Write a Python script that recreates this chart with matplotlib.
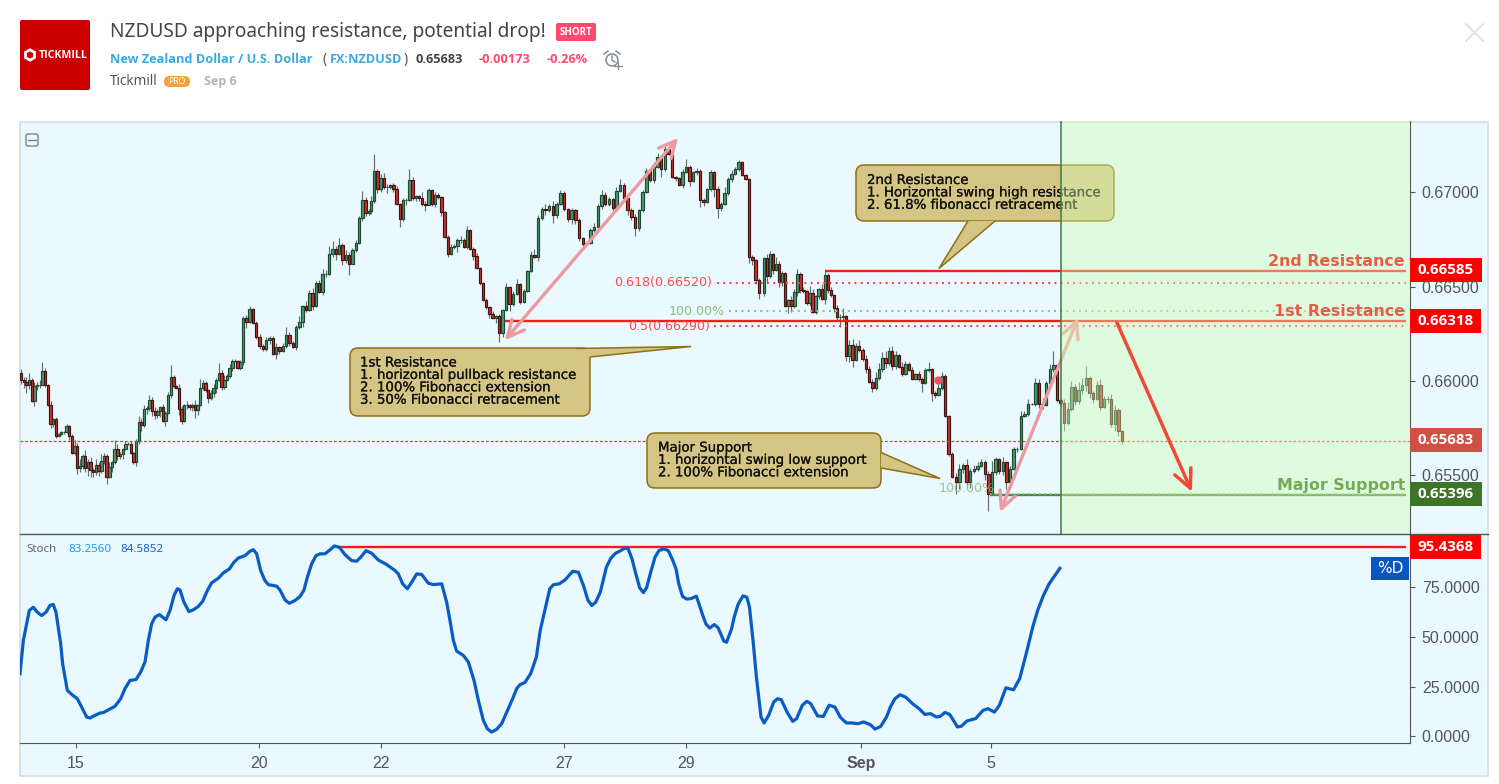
import numpy as np
import matplotlib
matplotlib.use("Agg")
import matplotlib.pyplot as plt
import matplotlib.patheffects as pe
from matplotlib.patches import FancyBboxPatch, Polygon, Rectangle, Circle, RegularPolygon
from matplotlib.transforms import Affine2D

W, H = 1499, 784

# ---- candle closes (price x 1e5), three chart stretches ----
close_a = [66007,65995,65976,66004,65893,65972,65977,65981,66051,65981,
65870,65770,65796,65708,65717,65729,65729,65761,65708,65620,
65655,65536,65550,65602,65536,65571,65528,65518,65555,65523,
65576,65602,65488,65541,65572,65641,65602,65611,65638,65664,
65668,65620,65572,65682,65784,65764,65849,65858,65898,65840,
65817,65840,65863,65787,65831,65923,66021,65972,65963,65852,
65787,65870,65873,65863,65873,65845,65870,65963,65990,65954,
65910,65937,65963,66007,66042,65968,66004,66025,66069,66104,
66104,66069,66099,66333,66312,66380,66306,66232,66187,66169,
66218,66227,66144,66180,66157,66187,66245,66201,66180,66285,
66312,66398,66377,66465,66398,66518,66474,66567,66567,66672,
66702,66676,66723,66641,66667,66623,66694,66732,66866,66961,
66892,66901]
close_b = [66952,67116,67019,67077,67028,67028,67042,67019,66940,66861,
66958,66958,67068,66972,66979,66972,66940,66936,67014,66940,
66989,66975,66896,66764,66676,66711,66715,66746,66750,66711,
66799,66702,66662,66600,66518,66430,66391,66356,66333,66342,
66254,66377,66496,66407,66460,66514,66421,66479,66584,66667,
66655,66866,66914,66905,66926,66882,66940,66998,66914,66861,
66905,66856,66760,66725,66732,66799,66817,66928,66989,66940,
66966,66919,67010,67042,66972,66905,66870,66813,66905,67002,
67112,67067,67134,67186,67125,67230,67204,67081,67077,67037,
67107,67134,67063,67107,67116,66958,66949,67019,67107,67019,
66919,66940,66996,67072,67098,67125,67160,67095,67072,66658,
66641,66535,66465]
close_c = [66650,66557,66671,66589,66620,66527,66571,66395,66427,66395,
66474,66566,66483,66479,66413,66469,66365,66448,66487,66434,
66562,66483,66457,66386,66337,66337,66346,66131,66193,66113,
66187,66166,66117,66064,65994,65964,66017,66061,66122,66096,
66157,66078,66140,66075,66039,66092,66057,66011,66039,66008,
65990,66057,66061,65937,65923,65964,66025,65814,65612,65489,
65462,65533,65554,65462,65524,65533,65550,65568,65506,65401,
65515,65585,65524,65568,65462,65533,65638,65638,65814,65823,
65876,65876,65987,65876,65870,65990,66064,66082,65899,65885,
65779,65853,65969,65893,65951,65978,66017,65934,65902,65981,
65862,65906,65906,65774,65846,65735,65683]
first_open = 66042
# wick lengths beyond the body (price x 1e5)
wick_up = [20,15,25,40,10,20,15,25,50,20, 5,25,10,15,5,5,5,10,5,10,
30,15,35,10,30,15,25,10,30,15, 35,15,10,30,5,45,25,10,5,20,
10,15,5,10,30,20,25,10,30,15, 20,10,5,15,10,20,65,10,5,20,
15,10,20,5,10,25,10,45,15,10, 5,15,20,10,55,15,25,10,20,15,
10,5,10,10,15,20,5,10,15,10, 15,10,10,20,5,15,40,15,10,10,
30,5,25,15,30,10,15,25,20,45, 40,15,35,10,25,15,10,15,10,45, 15,10,
30,90,10,20,25,15,5,10,15,5, 15,10,55,15,10,5,30,15,10,5,
15,10,5,5,10,15,10,10,20,10, 25,5,10,15,5,5,10,5,15,10,
15,5,25,10,15,25,5,10,5,20, 35,15,10,25,15,30,10,15,10,5,
15,5,10,5,5,15,20,10,25,15, 10,5,20,30,10,5,10,15,5,10,
20,15,25,25,15,20,10,10,5,5, 15,45,10,5,15,10,10,5,10,5,
15,10,35,10,20,10,10,5,5,5, 10,5,10,
10,25,20,10,40,15,10,5,10,25, 15,30,10,15,5,35,20,10,5,25,
30,10,15,5,15,20,40,5,25,30, 15,30,10,20,15,15,30,35,30,35,
25,30,20,5,25,15,10,15,5,15, 15,10,40,5,10,50,20,10,5,10,
20,25,10,30,15,20,20,20,15,15, 60,10,5,30,5,15,10,10,25,15,
30,5,30,25,35,10,25,75,5,10, 20,35,30,15,45,40,60,10,15,20,
30,15,15,25,25,10,5]
wick_dn = [25,30,40,20,5,25,20,15,5,15, 5,20,15,10,5,5,10,5,20,10,
15,30,20,15,20,40,35,30,15,25, 10,15,35,5,25,10,20,15,25,5,
5,10,10,25,15,30,10,25,15,25, 20,15,30,5,25,5,15,10,5,35,
15,5,20,15,20,40,25,5,10,15, 25,10,20,25,5,15,10,5,10,15,
5,5,10,15,30,5,5,10,15,10, 10,20,5,25,15,5,10,15,5,15,
10,25,10,5,20,5,5,20,15,5, 15,35,10,25,15,60,5,10,5,15, 15,10,
15,10,20,15,10,30,10,15,5,45, 10,25,5,10,15,20,10,35,5,10,
15,10,20,5,20,10,10,30,15,5, 10,10,20,5,10,5,10,20,5,25,
45,20,5,35,10,5,15,10,5,5, 5,20,10,25,10,45,15,5,10,20,
30,25,15,30,5,5,10,5,15,10, 10,15,5,10,5,25,15,45,15,10,
5,10,15,5,45,10,5,5,15,5, 15,5,30,5,15,35,20,5,10,45,
55,15,5,10,15,5,10,10,5,30, 25,20,30,
15,35,10,20,5,30,25,5,35,30, 10,25,15,10,10,15,5,10,15,5,
25,15,10,20,15,50,20,25,30,40, 5,15,10,20,5,25,10,10,15,30,
10,20,15,5,15,10,5,5,5,10, 50,5,10,45,15,5,10,5,10,5,
60,35,20,15,30,10,10,5,30,90, 5,15,20,25,35,5,5,15,5,5,
10,5,10,20,20,5,5,15,10,25, 45,15,10,20,15,20,30,25,20,5,
15,5,25,20,40,25,15]
# time anchors: bar number -> trading days after 15 Aug
anchor_bar = [0, 83, 121, 122, 162, 173, 207, 231, 234, 235, 262, 292, 341]
anchor_day = [-0.90, 2.738, 4.803, 4.836, 6.934, 7.574, 9.656, 11.033, 11.197, 11.279, 12.623, 14.246, 17.148]

# ---- stochastic %D ----
stoch_t = [-0.918,-0.863,-0.798,-0.765,-0.699,-0.634,-0.563,-0.492,-0.426,-0.372,-0.328,-0.251,-0.219,-0.142,-0.071,
0.022,0.093,0.175,0.230,0.311,0.393,0.448,0.514,0.639,0.732,0.803,0.885,0.984,1.060,1.131,1.186,1.240,1.295,1.366,1.475,
1.541,1.607,1.661,1.705,1.770,1.852,1.923,2.005,2.077,2.153,2.224,2.333,2.415,2.514,2.590,2.661,2.770,2.852,2.907,2.962,
3.027,3.098,3.153,3.290,3.344,3.426,3.497,3.590,3.672,3.738,3.792,3.863,3.934,4.0,4.082,4.164,4.235,4.317,4.410,4.519,
4.601,4.667,4.754,4.847,4.956,5.093,5.230,5.284,5.355,5.432,5.503,5.585,5.667,5.776,5.858,5.995,6.077,6.131,6.186,6.240,
6.350,6.432,6.525,6.596,6.678,6.743,6.814,6.896,6.978,7.087,7.158,7.224,7.279,7.359,7.453,7.547,7.610,7.691,7.767,7.829,
7.923,8.018,8.143,8.237,8.319,8.394,8.457,8.519,8.595,8.695,8.770,8.846,8.927,9.009,9.053,9.115,9.178,9.241,9.303,9.354,
9.429,9.492,9.555,9.636,9.711,9.774,9.837,9.881,9.944,10.013,10.088,10.169,10.213,10.276,10.326,10.389,10.464,10.527,10.621,10.665,
10.747,10.790,10.853,10.935,10.997,11.041,11.104,11.154,11.230,11.280,11.355,11.437,11.499,11.562,11.656,11.750,11.813,11.907,11.982,12.045,
12.158,12.252,12.346,12.440,12.534,12.629,12.723,12.817,12.911,13.024,13.099,13.193,13.287,13.350,13.425,13.507,13.601,13.714,13.821,13.915,
14.009,14.103,14.165,14.247,14.322,14.385,14.448,14.511,14.605,14.749,14.868,14.950,15.056,15.138,15.244,15.370,15.470,15.577,15.684,15.765,
15.859,15.953,16.047,16.129]
stoch_v = [31.5,48.3,58.3,63.4,65.0,62.5,60.8,62.5,65.9,66.4,62.5,46.6,36.5,23.1,21.1,
18.9,14.7,9.7,9.2,10.5,11.7,11.9,13.0,15.1,18.9,24.0,28.1,28.6,32.3,37.4,48.3,56.6,60.0,61.3,58.7,
63.4,70.9,74.3,73.7,67.5,62.8,63.7,65.4,68.0,73.4,77.3,79.6,82.3,84.3,87.7,89.8,91.0,93.2,94.0,91.9,
83.5,78.4,76.4,75.6,73.7,68.7,67.0,68.4,70.4,73.7,80.1,86.8,91.0,91.9,91.9,93.9,95.9,95.2,91.5,88.5,
88.2,90.2,93.5,92.2,88.8,86.5,83.5,81.8,76.8,74.3,77.6,81.8,81.5,77.1,76.4,76.8,67.5,58.3,48.3,42.9,
40.7,37.4,28.1,18.1,8.0,3.8,2.1,3.5,6.3,13.9,18.9,24.0,26.0,27.1,31.5,39.9,53.3,64.2,74.3,76.4,
76.8,78.8,83.1,82.6,75.9,68.4,65.9,67.5,72.6,85.2,89.8,92.2,93.5,94.9,94.4,89.3,81.8,74.8,72.4,74.8,
83.5,90.2,93.5,94.4,93.5,89.3,84.3,76.8,70.4,69.1,69.4,70.6,66.7,60.8,56.6,54.5,56.3,54.6,47.9,47.4,
54.1,60.0,66.4,70.7,70.1,65.0,46.6,29.8,9.7,6.7,10.5,17.2,18.9,18.4,12.2,7.5,8.9,15.6,17.6,16.4,
10.2,10.0,15.6,14.7,9.4,6.7,6.7,6.3,7.2,5.8,3.6,5.0,9.7,14.7,18.9,20.9,19.7,16.4,13.9,11.0,
11.4,9.7,10.0,12.0,11.0,8.0,4.7,5.0,7.7,8.9,13.0,13.9,12.2,15.6,24.4,23.4,29.0,41.6,55.0,63.4,
70.9,76.8,81.0,84.6]

# ---- axes labels ----
price_ticks = [0.655, 0.66, 0.665, 0.67]
stoch_ticks = [0, 25, 50, 75]
date_ticks = [0, 3, 5, 8, 10, 12.87, 15]
date_labels = ["15", "20", "22", "27", "29", "Sep", "5"]

# ---- levels ----
res2, res1, sup, last_px, stoch_high = 0.66585, 0.66318, 0.65396, 0.65683, 95.4368
fib618, fib50, ext_top = 0.66520, 0.66290, 0.66371

BG = "#E9F9FF"
fig = plt.figure(figsize=(W/100, H/100), dpi=100, facecolor="white")
plt.rcParams["font.family"] = ["DejaVu Sans"]

def add_ax(x0, y0, x1, y1, **kw):
    return fig.add_axes([x0/W, 1-y1/H, (x1-x0)/W, (y1-y0)/H], **kw)

pxT = Affine2D().scale(1, -1).translate(0, H)

# chrome background
bg = add_ax(0, 0, W, H, zorder=0)
bg.set_xlim(0, W); bg.set_ylim(H, 0); bg.axis("off")
bg.add_patch(Rectangle((20.5, 121.5), 1468, 654, fc=BG, ec="#D6DDE3", lw=1.2))

xlim = ((20-76)/61, (1410-76)/61)
ylim = (0.65188, 0.67379)

# ---------- main pane ----------
ax = add_ax(20, 121, 1410, 534, zorder=2)
ax.set_facecolor("none")
ax.set_xlim(*xlim); ax.set_ylim(*ylim)
for s in ["top", "left", "bottom"]:
    ax.spines[s].set_visible(False)
ax.spines["right"].set_color("#555555")
ax.yaxis.tick_right()
ax.set_yticks(price_ticks)
ax.set_yticklabels([f"{v:.5f}" for v in price_ticks], fontfamily="Liberation Sans", fontsize=11.5, color="#555555")
ax.tick_params(axis="y", length=3.5, color="#555555", pad=5)
ax.set_xticks([])

closes = np.array(close_a + close_b + close_c, float)
opens = np.r_[first_open, closes[:-1]]
times = np.interp(np.arange(len(closes)), anchor_bar, anchor_day)
up = np.array(wick_up, float); dn = np.array(wick_dn, float)
highs = np.maximum(opens, closes) + up
lows = np.minimum(opens, closes) - dn
rising = closes >= opens
ax.vlines(times, lows/1e5, highs/1e5, color="#6B6B6B", lw=0.85, zorder=2)
bw = 2.4/61
ax.bar(times[rising], (closes-opens)[rising]/1e5, bottom=opens[rising]/1e5, width=bw,
       color="#4C9A70", edgecolor="#1E4A30", lw=0.85, zorder=3)
ax.bar(times[~rising], (opens-closes)[~rising]/1e5, bottom=closes[~rising]/1e5, width=bw,
       color="#C8302B", edgecolor="#431512", lw=0.85, zorder=3)
ax.plot([(938-76)/61], [0.66003], "o", ms=5, color="#EF5262", zorder=4)

xr = (1406-76)/61
day = lambda px: (px-76)/61
# levels
ax.hlines(last_px, *xlim, color="#E53935", lw=0.9, linestyles=(0, (2.2, 1.6)), zorder=4)
ax.hlines(res2, day(825), xr, color="#FF1A1A", lw=1.7, zorder=5)
ax.hlines(res1, day(505), xr, color="#FF1A1A", lw=1.7, zorder=5)
ax.hlines(sup, day(990), xr, color="#4E8A3A", lw=1.7, zorder=5)
dots = (0, (0.9, 2.1))
ax.hlines(fib618, day(717), xr, color="#FF3B3B", lw=1.5, linestyles=dots, zorder=5)
ax.hlines(fib50, day(714), xr, color="#FF3B3B", lw=1.5, linestyles=dots, zorder=5)
ax.hlines(ext_top, day(729), xr, color="#8DBF7A", lw=1.5, linestyles=dots, zorder=5)
ax.hlines(sup+0.00004, day(990), xr, color="#8DBF7A", lw=1.3, linestyles=dots, zorder=5)

ax.text(day(712), fib618, "0.618(0.66520)", color="#FF4A4A", fontsize=9.1, ha="right", va="center", zorder=5)
ax.text(day(710), fib50, "0.5(0.66290)", color="#FF4A4A", fontsize=9.1, ha="right", va="center", zorder=6)
ax.text(day(725), ext_top, "100.00%", color="#8DBF7A", fontsize=9.1, ha="right", va="center", zorder=5)
ax.text(day(995), 0.65432, "100.00%", color="#8DBF7A", fontsize=9.1, ha="right", va="center", zorder=5, alpha=.9)

def arrow(x0, p0, x1, p1, style, col, lw=2.4, z=6):
    ax.annotate("", xy=(x1, p1), xytext=(x0, p0), annotation_clip=False, zorder=z,
                arrowprops=dict(arrowstyle=style, color=col, lw=lw, shrinkA=0, shrinkB=0, mutation_scale=14))

dbl = "<->,head_length=0.85,head_width=0.42"
arrow(7.033, 0.66217, 9.869, 0.67289, dbl, "#EC9AA0")
arrow(15.148, 0.65305, 16.426, 0.66334, dbl, "#EC9AA0")

# callouts
FILL, EDGE = "#D4C584", "#8F7014"
def callout(x0, y0, x1, y1, tail, lines, tx, ty, z=7):
    ax.add_patch(FancyBboxPatch((x0, y0), x1-x0, y1-y0, boxstyle="round,pad=0,rounding_size=8",
                                fc=FILL, ec=EDGE, lw=1.1, transform=pxT, clip_on=False, zorder=z))
    ax.add_patch(Polygon(tail, closed=False, fc=FILL, ec=EDGE, lw=1.1, transform=pxT, clip_on=False, zorder=z+.1, joinstyle="miter"))
    for i, s in enumerate(lines):
        ax.text(tx, ty + i*12.4, s, transform=pxT, color="#111111", fontsize=9.6, va="center", ha="left", zorder=z+.2,
                clip_on=False, path_effects=[pe.withStroke(linewidth=0.15, foreground="#111111")])

callout(350, 348, 590, 416, [(576, 348.5), (691, 346.5), (590, 357)],
        ["1st Resistance", "1. horizontal pullback resistance", "2. 100% Fibonacci extension", "3. 50% Fibonacci retracement"], 360, 363)
callout(647, 433, 881, 488, [(881, 452.5), (940, 478.5), (881, 468)],
        ["Major Support", "1. horizontal swing low support", "2. 100% Fibonacci extension"], 658, 448)
callout(856, 165, 1114, 221, [(995, 221), (939, 268.5), (968, 221)],
        ["2nd Resistance", "1. Horizontal swing high resistance", "2. 61.8% fibonacci retracement"], 867, 180.5)

# green projection zone on top of everything drawn so far
ax.axvspan(day(1061.5), xlim[1], fc="#D3FEB5", alpha=0.42, ec="none", zorder=9)
ax.axvline(day(1061.5), color="#3F7A3F", lw=1.1, zorder=10)
arrow(17.066, 0.66308, 18.295, 0.65411, "->,head_length=0.95,head_width=0.45", "#EE4A3A", lw=2.5, z=11)

for s, p, c in [("2nd Resistance", res2, "#E8543F"), ("1st Resistance", res1, "#E8543F"), ("Major Support", sup, "#6FA64F")]:
    ax.text(day(1405), p+0.00050, s, color=c, fontsize=11.4, fontweight="bold", ha="right", va="center",
            zorder=12, alpha=.95)

# ---------- stochastic pane ----------
ax2 = add_ax(20, 534, 1410, 743, zorder=2)
ax2.set_facecolor("none")
ax2.set_xlim(*xlim); ax2.set_ylim(-3.4, 101.9)
for s in ["top", "left"]:
    ax2.spines[s].set_visible(False)
for s in ["right", "bottom"]:
    ax2.spines[s].set_color("#555555")
ax2.yaxis.tick_right()
ax2.set_yticks(stoch_ticks)
ax2.set_yticklabels([f"{v:.4f}" for v in stoch_ticks], fontfamily="Liberation Sans", fontsize=11.5, color="#555555")
ax2.tick_params(axis="y", length=3.5, color="#555555", pad=5)
ax2.set_xticks(date_ticks)
ax2.set_xticklabels(date_labels, fontfamily="Liberation Sans", fontsize=11.5, color="#555555")
ax2.get_xticklabels()[5].set_fontweight("bold")
ax2.tick_params(axis="x", length=3.5, color="#555555", pad=6)
ax2.hlines(stoch_high, day(335), xr, color="#FF1A1A", lw=1.7, zorder=2)
ax2.plot(stoch_t, stoch_v, color="#0A5CC2", lw=2.3, solid_joinstyle="round", zorder=3)

# ---------- overlay chrome ----------
top = add_ax(0, 0, W, H, zorder=5)
top.set_xlim(0, W); top.set_ylim(H, 0); top.axis("off"); top.patch.set_visible(False)
T = lambda x, y, s, **k: top.text(x, y, s, va=k.pop("va", "center"), ha=k.pop("ha", "left"), **k)
top.plot([20, 1488], [534.3, 534.3], color="#555555", lw=1)

def badge(x0, y0, x1, y1, txt, fc, **k):
    top.add_patch(Rectangle((x0, y0), x1-x0, y1-y0, fc=fc, ec="none"))
    T((x0+x1)/2 + k.pop("dx", 0), (y0+y1)/2, txt, ha="center", color="white", **k)

numfont = dict(fontfamily="Open Sans", fontweight="bold", fontsize=10.9)
badge(1410, 258, 1482, 282, "0.66585", "#FF0000", **numfont)
badge(1410, 309, 1481, 333, "0.66318", "#FF0000", **numfont)
badge(1410, 428, 1482, 452, "0.65683", "#D14F45", **numfont)
badge(1410, 482, 1482, 506, "0.65396", "#3E7428", **numfont)
badge(1410, 535, 1481, 559, "95.4368", "#FF0000", **numfont)
badge(1371, 557, 1409, 580, "%D", "#0A55BE", fontfamily="DejaVu Sans", fontsize=11)

T(26, 550, "Stoch", color="#666666", fontfamily="Noto Sans", fontsize=8.3)
T(68, 550, "83.2560", color="#2196F3", fontfamily="Noto Sans", fontsize=8.3)
T(120, 550, "84.5852", color="#1565C0", fontfamily="Noto Sans", fontsize=8.3)

# collapse icon
top.add_patch(FancyBboxPatch((26, 134), 12, 12, boxstyle="round,pad=0,rounding_size=2", fc="none", ec="#777777", lw=0.9))
top.plot([28, 36], [140, 140], color="#777777", lw=0.9)

# header
top.add_patch(FancyBboxPatch((20, 20), 70, 70, boxstyle="round,pad=0,rounding_size=2", fc="#CC0000", ec="none"))
top.add_patch(RegularPolygon((30, 55), 6, radius=5.2, fc="none", ec="white", lw=2))
T(39, 55, "TICKMILL", color="white", fontfamily="Open Sans", fontweight="bold", fontsize=7.6)
T(110, 32, "NZDUSD approaching resistance, potential drop!", color="#444444", fontfamily="Noto Sans", fontsize=13.75)
top.add_patch(FancyBboxPatch((556, 23), 40, 18, boxstyle="round,pad=0,rounding_size=2", fc="#FF4A6E", ec="none"))
T(576, 32, "SHORT", color="white", ha="center", fontfamily="Open Sans", fontweight="bold", fontsize=7)
hb = dict(fontfamily="Open Sans", fontweight="bold", fontsize=9.2)
T(110, 59, "New Zealand Dollar / U.S. Dollar", color="#3BA9E0", **hb)
T(323, 59, "(", color="#555555", fontfamily="Noto Sans", fontsize=10)
T(330, 59, "FX:NZDUSD", color="#3BA9E0", **hb)
T(404, 59, ")", color="#555555", fontfamily="Noto Sans", fontsize=10)
T(416, 59, "0.65683", color="#444444", **hb)
T(479, 59, "-0.00173", color="#FF4A6E", **hb)
T(547, 59, "-0.26%", color="#FF4A6E", **hb)
top.add_patch(Circle((612, 60), 6, fc="none", ec="#7F8C96", lw=1.1))
top.plot([612, 612, 615], [56, 60, 62], color="#7F8C96", lw=1)
top.plot([604, 608], [54, 51], color="#7F8C96", lw=1.1)
top.plot([616, 620], [51, 54], color="#7F8C96", lw=1.1)
top.plot([614, 622], [65.5, 65.5], color="#7F8C96", lw=0.9)
top.plot([618, 618], [62, 69], color="#7F8C96", lw=0.9)
T(110, 81, "Tickmill", color="#555555", fontfamily="Noto Sans", fontsize=9.8)
top.add_patch(FancyBboxPatch((164, 76), 26, 11, boxstyle="round,pad=0,rounding_size=5.5", fc="#F7A13B", ec="none"))
T(177, 81.5, "PRO", color="white", ha="center", fontfamily="Noto Sans", fontsize=6.2)
T(204, 81, "Sep 6", color="#B0B4B8", fontfamily="Open Sans", fontweight="bold", fontsize=9)
top.plot([1466, 1483], [24, 41], color="#DDE1E4", lw=1.3)
top.plot([1466, 1483], [41, 24], color="#DDE1E4", lw=1.3)

fig.savefig("out.png", dpi=100)
